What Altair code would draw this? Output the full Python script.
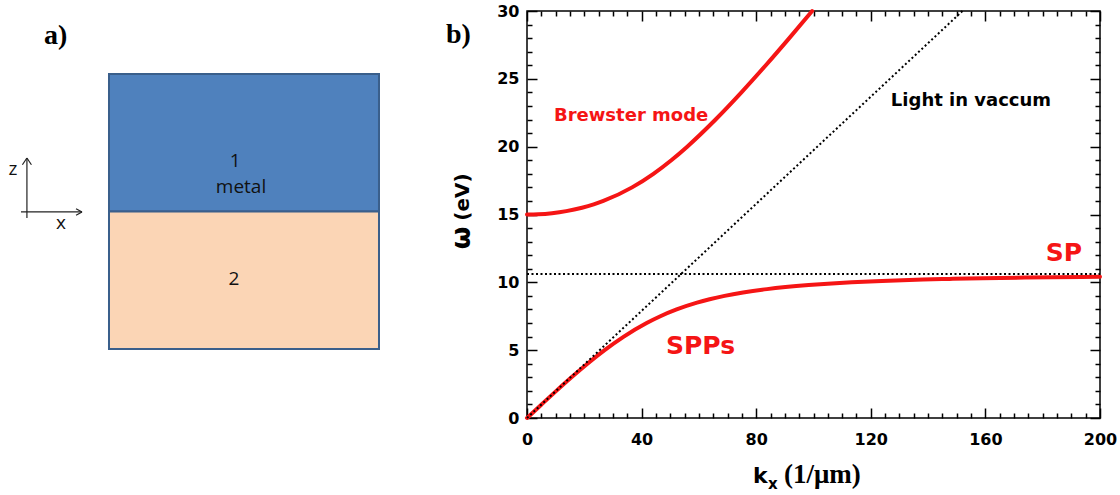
import altair as alt
import pandas as pd

RED = "#f51515"
SANS = "DejaVu Sans"
SERIF = "Liberation Serif"

# ---------------- panel b data ----------------
spp_k = [0, 5.08, 10.23, 15.53, 21.10, 27.09, 33.80, 41.76, 46.55, 52.23, 59.34, 63.73,
         68.96, 75.42, 83.78, 90.22, 98.3, 105.0, 113.3, 123.9, 138.2, 147.5, 159.0,
         173.7, 193.4, 200]
spp_w = [0, 1, 2, 3, 4, 5, 6, 7, 7.5, 8, 8.5, 8.75,
         9, 9.25, 9.5, 9.65, 9.8, 9.9, 10.0, 10.1, 10.2, 10.25, 10.3,
         10.35, 10.4, 10.413]
brew_k = [0, 3.92, 8.73, 13.72, 19.19, 23.28, 26.65, 36.68, 44.13, 50.37, 55.92,
          65.83, 74.85, 83.36, 91.55, 99.53]
brew_w = [15, 15.02, 15.1, 15.25, 15.5, 15.75, 16, 17, 18, 19, 20,
          22, 24, 26, 28, 30]
light_k = [0, 152]
light_w = [0, 30]
sp_k = [0, 200]
sp_w = [10.61, 10.61]

x_major = [0, 40, 80, 120, 160, 200]
x_minor = [v for v in range(5, 200, 5) if v % 40 != 0]
y_major = [0, 5, 10, 15, 20, 25, 30]
y_minor = [v for v in range(1, 30) if v % 5 != 0]

ann_text = ["Brewster mode", "Light in vaccum", "SP", "SPPs"]
ann_k = [9.4, 127, 187.4, 48.5]
ann_w = [22.25, 23.36, 12.16, 5.3]

# ---------------- panel a data (schematic units) ----------------
slab_name = ["metal", "dielectric"]
slab_x = [0, 0]
slab_x2 = [1, 1]
slab_z = [0, -1]
slab_z2 = [1, 0]

lab_text = ["1", "metal", "2", "z", "x"]
lab_x = [0.467, 0.489, 0.463, -0.356, -0.178]
lab_z = [0.367, 0.178, -0.491, 0.309, -0.084]

seg_x = [-0.304, -0.304, -0.304, -0.326, -0.10, -0.10]
seg_z = [-0.047, 0.389, 0.389, -0.0036, -0.0036, -0.0036]
seg_x2 = [-0.304, -0.3207, -0.2873, -0.10, -0.122, -0.122]
seg_z2 = [0.389, 0.340, 0.340, -0.0036, 0.0204, -0.0276]

# ---------------- panel b ----------------
W, H = 573, 407
xs = alt.Scale(domain=[0, 200], nice=False, zero=False)
ys = alt.Scale(domain=[0, 30], nice=False, zero=False)

LBL = dict(labelFont=SANS, labelFontSize=16, labelFontWeight="bold", labelColor="black",
           labelOverlap=False)
XL = alt.Axis(orient="bottom", values=x_major, ticks=False, domain=False, grid=False,
              labelPadding=13, labelFlush=False, title=None, **LBL)
YL = alt.Axis(orient="left", values=y_major, ticks=False, domain=False, grid=False,
              labelPadding=8, title=None, **LBL)


def tick_axis(orient, offset, vals, size):
    # an axis moved onto the opposite edge so that its ticks point into the plot
    return alt.Axis(orient=orient, offset=offset, values=vals, tickSize=size, tickWidth=1.5,
                    tickColor="black", ticks=True, labels=False, domain=False, grid=False,
                    title=None)


XT = [tick_axis("top", -H, x_major, 10), tick_axis("top", -H, x_minor, 5),
      tick_axis("bottom", -H, x_major, 10), tick_axis("bottom", -H, x_minor, 5)]
YT = [tick_axis("right", -W, y_major, 10), tick_axis("right", -W, y_minor, 5),
      tick_axis("left", -W, y_major, 10), tick_axis("left", -W, y_minor, 5)]

curves = pd.concat([
    pd.DataFrame({"k": spp_k, "w": spp_w, "s": "spp"}),
    pd.DataFrame({"k": brew_k, "w": brew_w, "s": "brewster"}),
])
guides = pd.concat([
    pd.DataFrame({"k": light_k, "w": light_w, "s": "light"}),
    pd.DataFrame({"k": sp_k, "w": sp_w, "s": "sp"}),
])

red_lines = alt.Chart(curves).mark_line(color=RED, strokeWidth=4, strokeCap="round",
                                        interpolate="monotone").encode(
    x=alt.X("k:Q", scale=xs, axis=XL),
    y=alt.Y("w:Q", scale=ys, axis=YL),
    detail="s:N",
)
dotted = alt.Chart(guides).mark_line(color="black", strokeWidth=2, strokeDash=[2, 2.5]).encode(
    x=alt.X("k:Q", scale=xs, axis=XT[0]),
    y=alt.Y("w:Q", scale=ys, axis=YT[0]),
    detail="s:N",
)

ann = pd.DataFrame({"k": ann_k, "w": ann_w, "t": ann_text})


def ann_layer(name, color, size, align, xax, yax):
    return alt.Chart(ann[ann.t == name]).mark_text(
        font=SANS, fontWeight="bold", fontSize=size, color=color,
        align=align, baseline="middle").encode(
        x=alt.X("k:Q", scale=xs, axis=xax), y=alt.Y("w:Q", scale=ys, axis=yax), text="t:N")


ann_layers = [
    ann_layer("Brewster mode", RED, 18, "left", XT[1], YT[1]),
    ann_layer("Light in vaccum", "black", 18, "left", XT[2], YT[2]),
    ann_layer("SP", RED, 25, "center", XT[3], YT[3]),
    ann_layer("SPPs", RED, 25, "left", None, None),
]


def label(txt, x, y, font, size, align="left", baseline="alphabetic", angle=0, weight="bold"):
    return alt.Chart(pd.DataFrame({"t": [txt]})).mark_text(
        font=font, fontSize=size, fontWeight=weight, color="black",
        align=align, baseline=baseline, angle=angle).encode(
        x=alt.value(x), y=alt.value(y), text="t:N")


title_layers = [
    label("b)", -81, 32, SERIF, 28),
    label("ω", -65, 227, SANS, 26, align="center", baseline="middle", angle=270),
    label("(eV)", -64, 186, SANS, 20, align="center", baseline="middle", angle=270),
    label("k", 226, 472, SANS, 22),
    label("x", 241, 478, SANS, 15),
    label("(1/μm)", 257, 472, SERIF, 27),
]

panel_b = alt.layer(red_lines, dotted, *ann_layers, *title_layers).resolve_axis(
    x="independent", y="independent"
).properties(width=W, height=H, view=alt.ViewBackground(stroke="black", strokeWidth=1.5))

# ---------------- panel a ----------------
WA, HA = 426, 407
axs = alt.Scale(domain=[-0.4, 1.1778], nice=False, zero=False)
azs = alt.Scale(domain=[-1.502, 1.458], nice=False, zero=False)

slabs = pd.DataFrame({"name": slab_name, "x": slab_x, "x2": slab_x2, "z": slab_z, "z2": slab_z2})
rects = alt.Chart(slabs).mark_rect(stroke="#3a5f8b", strokeWidth=2).encode(
    x=alt.X("x:Q", scale=axs, axis=None), x2="x2:Q",
    y=alt.Y("z:Q", scale=azs, axis=None), y2="z2:Q",
    color=alt.Color("name:N", scale=alt.Scale(domain=slab_name, range=["#4f81bd", "#fbd5b5"]),
                    legend=None),
)
segs = pd.DataFrame({"x": seg_x, "z": seg_z, "x2": seg_x2, "z2": seg_z2})
arrows = alt.Chart(segs).mark_rule(color="#222222", strokeWidth=1.2).encode(
    x=alt.X("x:Q", scale=axs, axis=None), x2="x2:Q",
    y=alt.Y("z:Q", scale=azs, axis=None), y2="z2:Q",
)
labs = pd.DataFrame({"t": lab_text, "x": lab_x, "z": lab_z})
texts = alt.Chart(labs).mark_text(font="Open Sans", fontSize=19, color="#111111",
                                  align="center", baseline="middle").encode(
    x=alt.X("x:Q", scale=axs, axis=None), y=alt.Y("z:Q", scale=azs, axis=None), text="t:N")
a_lab = alt.Chart(pd.DataFrame({"t": ["a)"], "x": [-0.241], "z": [1.218]})).mark_text(
    font=SERIF, fontSize=28, fontWeight="bold", color="black", align="left",
    baseline="alphabetic").encode(
    x=alt.X("x:Q", scale=axs, axis=None), y=alt.Y("z:Q", scale=azs, axis=None), text="t:N")

panel_a = alt.layer(rects, arrows, texts, a_lab).properties(width=WA, height=HA)

chart = alt.hconcat(panel_a, panel_b, spacing=100, bounds="flush").resolve_scale(
    x="independent", y="independent", color="independent"
).properties(
    padding={"left": 0, "top": 2, "right": 0, "bottom": 0},
    background="white",
).configure_view(stroke="transparent")

chart.save("out.html", embed_options={"renderer": "svg", "actions": False})
